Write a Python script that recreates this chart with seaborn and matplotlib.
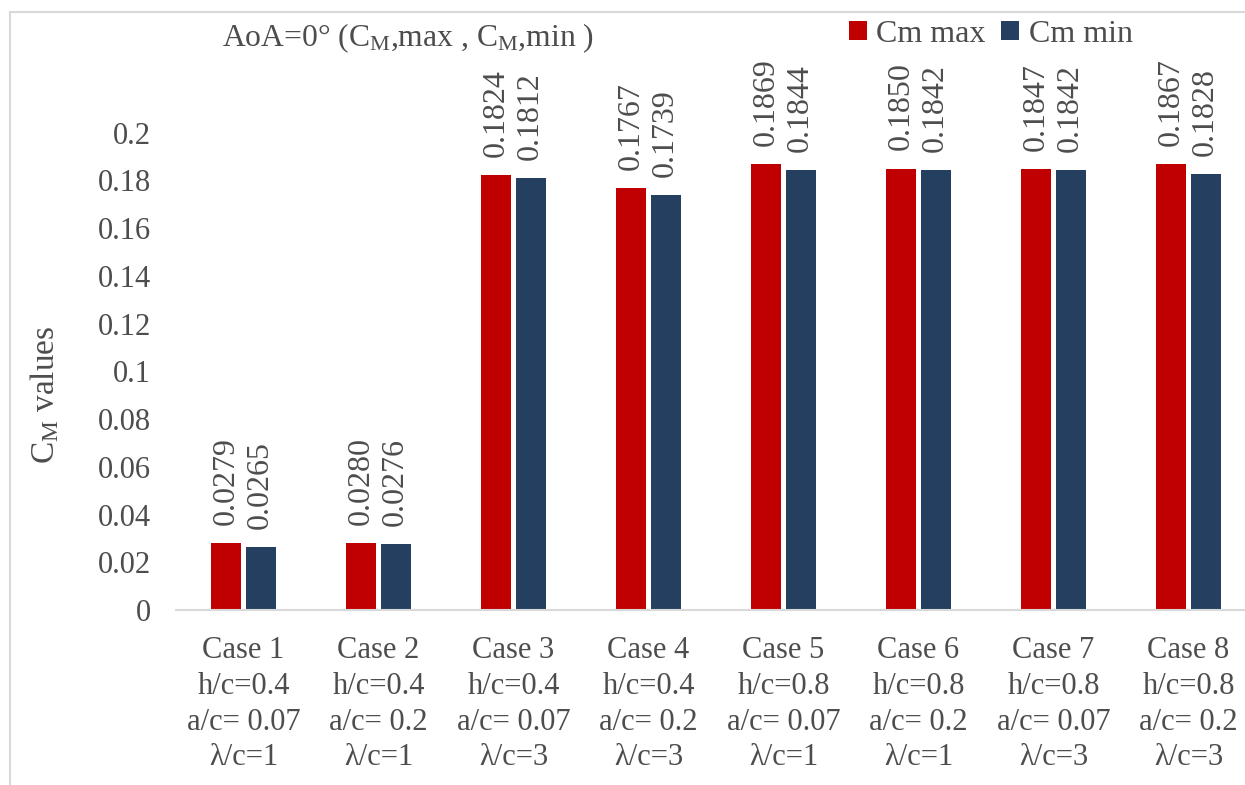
import numpy as np
import pandas as pd
import matplotlib
matplotlib.use("Agg")
import matplotlib.pyplot as plt
from matplotlib.lines import Line2D
from matplotlib.patches import Patch
import seaborn as sns

# ---- data ----
cases = ["Case 1", "Case 2", "Case 3", "Case 4", "Case 5", "Case 6", "Case 7", "Case 8"]
h_c = ["0.4", "0.4", "0.4", "0.4", "0.8", "0.8", "0.8", "0.8"]
a_c = ["0.07", "0.2", "0.07", "0.2", "0.07", "0.2", "0.07", "0.2"]
lam_c = ["1", "1", "3", "3", "1", "1", "3", "3"]
cm_max = [0.0279, 0.0280, 0.1824, 0.1767, 0.1869, 0.1850, 0.1847, 0.1867]
cm_min = [0.0265, 0.0276, 0.1812, 0.1739, 0.1844, 0.1842, 0.1842, 0.1828]
series = ["Cm max", "Cm min"]
y_ticks = [0, 0.02, 0.04, 0.06, 0.08, 0.1, 0.12, 0.14, 0.16, 0.18, 0.2]

tick_labels = [f"{c}\nh/c={h}\na/c= {a}\n\u03bb/c={l}"
               for c, h, a, l in zip(cases, h_c, a_c, lam_c)]

df = pd.DataFrame({
    "case": cases * 2,
    "series": [series[0]] * len(cases) + [series[1]] * len(cases),
    "value": cm_max + cm_min,
})

# ---- style ----
sns.set_theme(style="white")
plt.rcParams["font.family"] = ["Liberation Serif", "DejaVu Serif"]
plt.rcParams["mathtext.fontset"] = "custom"
plt.rcParams["mathtext.rm"] = "Liberation Serif"
plt.rcParams["mathtext.it"] = "Liberation Serif:italic"
TXT = "#4d4d4d"
RED = "#C00000"
NAVY = "#243F60"
GRID = "#D9D9D9"

fig = plt.figure(figsize=(12.45, 7.85), dpi=100)
fig.patch.set_facecolor("white")

# plot area (extends past the right edge of the canvas)
ax = fig.add_axes([176 / 1245, (785 - 610) / 785, 1080 / 1245, 525 / 785])

sns.barplot(data=df, x="case", y="value", hue="series", order=cases,
            hue_order=series, palette=[RED, NAVY], saturation=1,
            width=0.51, gap=0.13, edgecolor="none", legend=False, ax=ax)

ax.set_xlim(-0.5, 7.5)
ax.set_ylim(0, 0.22)
ax.set_yticks(y_ticks)
ax.set_yticklabels([f"{v:g}" for v in y_ticks])
ax.set_xticks(range(len(cases)))
ax.set_xticklabels(tick_labels, linespacing=1.3)
ax.tick_params(axis="y", length=0, pad=18, labelsize=22, labelcolor=TXT)
ax.tick_params(axis="x", length=0, pad=19, labelsize=22, labelcolor=TXT)
ax.set_xlabel("")
ax.set_ylabel("")

for side in ["top", "right", "left"]:
    ax.spines[side].set_visible(False)
ax.spines["bottom"].set_color(GRID)
ax.spines["bottom"].set_linewidth(1.5)

# value labels above every bar
for cont, vals in zip(ax.containers, [cm_max, cm_min]):
    ax.bar_label(cont, labels=[f"{v:.4f}" for v in vals], rotation=90,
                 padding=13, fontsize=23, color=TXT)

# axis title
fig.text(45 / 1245, 1 - 395 / 785, r"C$_\mathregular{M}$ values",
         fontsize=24, color=TXT, rotation=90, ha="center", va="center")

# chart title
fig.text(222 / 1245, 1 - 38 / 785,
         r"AoA=0° (C$_\mathregular{M}$,max , C$_\mathregular{M}$,min )",
         fontsize=22.8, color=TXT, ha="left", va="center")

# legend
handles = [Patch(facecolor=RED, edgecolor="none"),
           Patch(facecolor=NAVY, edgecolor="none")]
fig.legend(handles, series, loc="center left",
           bbox_to_anchor=(849 / 1245, 1 - 34 / 785), ncol=2, frameon=False,
           fontsize=23, labelcolor=TXT, handlelength=0.55, handleheight=0.55,
           handletextpad=0.3, columnspacing=0.5, borderaxespad=0, borderpad=0)

# chart-area border
fig.add_artist(Line2D([10 / 1245, 10 / 1245], [0, 1 - 12 / 785],
                      transform=fig.transFigure, color=GRID, lw=1.5))
fig.add_artist(Line2D([10 / 1245, 1], [1 - 12 / 785, 1 - 12 / 785],
                      transform=fig.transFigure, color=GRID, lw=1.5))

fig.savefig("out.png", dpi=100)
